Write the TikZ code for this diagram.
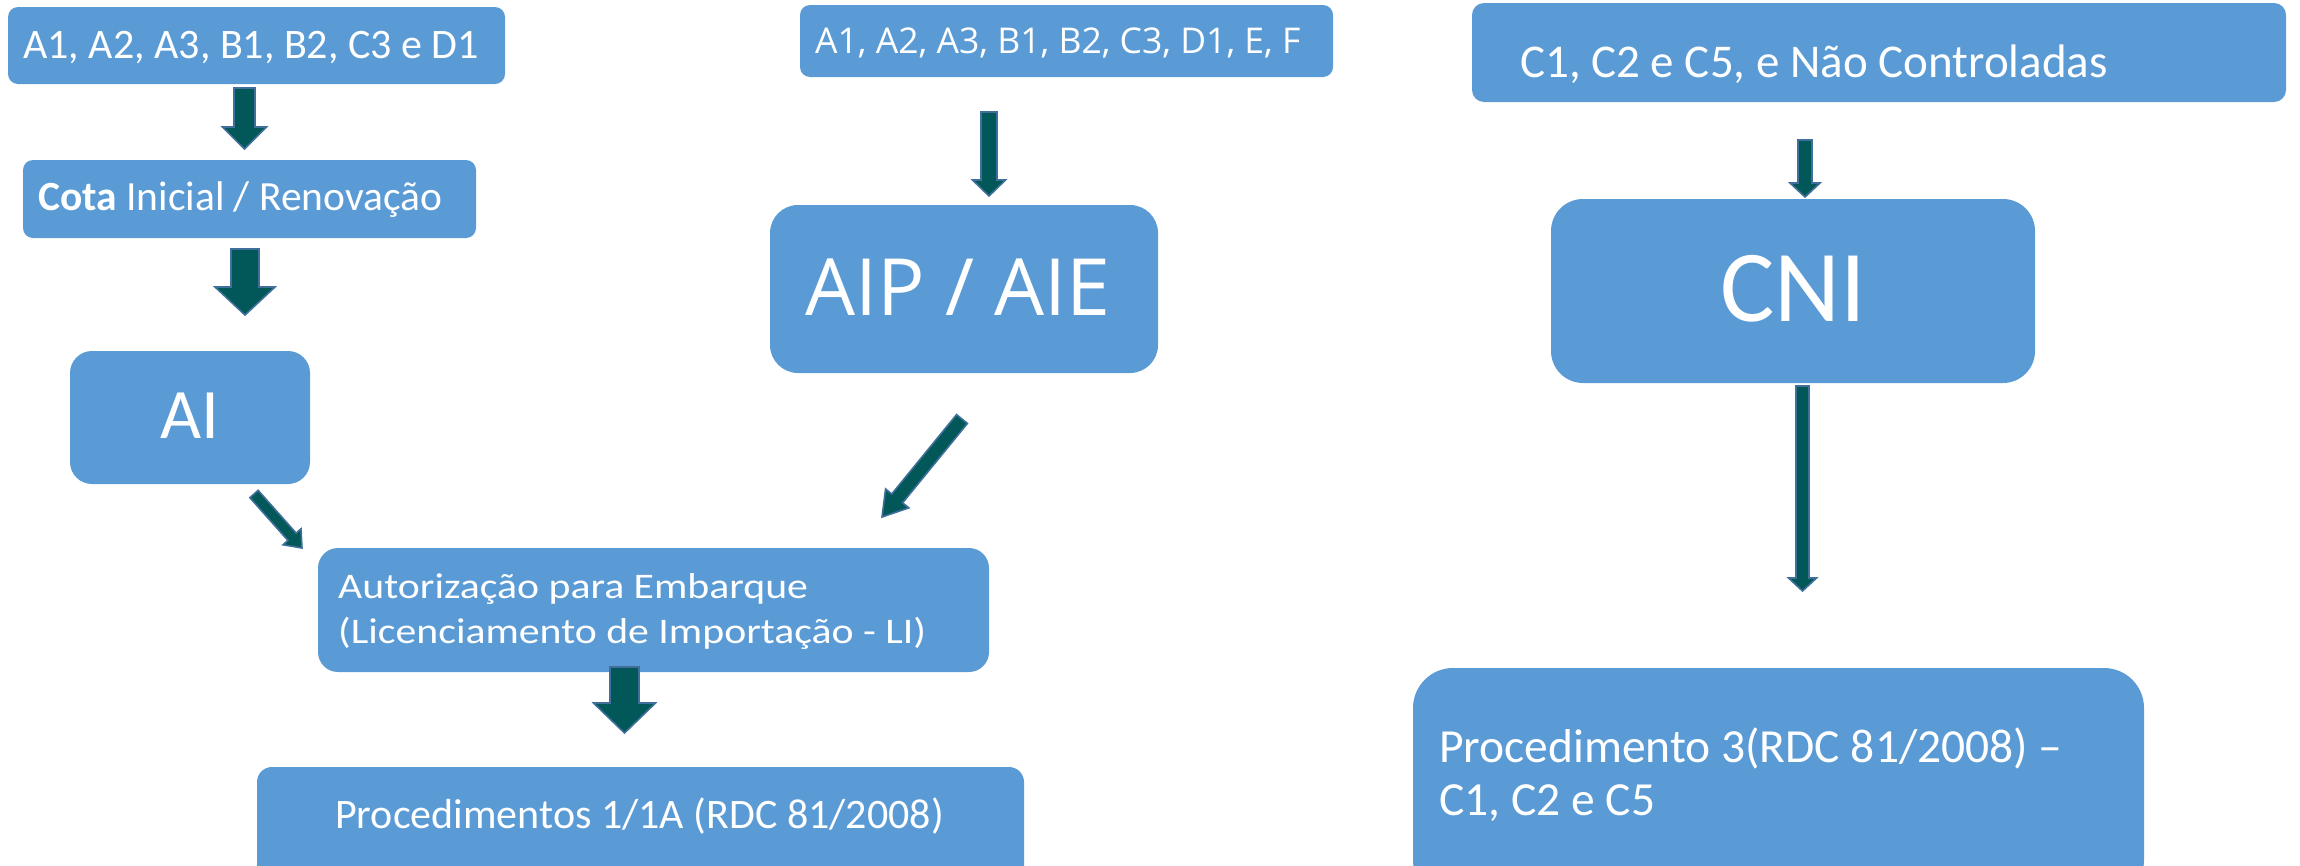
\documentclass[tikz,border=0pt]{standalone}
\usepackage{fontspec}
\setmainfont{Carlito}
\newfontfamily\osans{Open Sans}
\newfontfamily\wcarlito[FakeStretch=1.16]{Carlito}
\usetikzlibrary{calc}
\definecolor{boxblue}{HTML}{5B9BD5}
\definecolor{arrfill}{HTML}{025858}
\definecolor{arrline}{HTML}{3F6F9A}
\tikzset{
  box/.style={draw=none, fill=boxblue, rectangle, inner sep=0pt},
  txt/.style={text=white, inner sep=0pt, anchor=base west},
  blockarrow/.style={fill=arrfill, draw=arrline, line width=1.6pt, line join=miter}
}
\newcommand{\blockarr}[5]{%
  \coordinate (ba-h) at ($(#2)!#5!(#1)$);
  \draw[blockarrow] ($(#1)!#3!90:(#2)$) -- ($(ba-h)!#3!-90:(#1)$) -- ($(ba-h)!#4!-90:(#1)$) -- (#2)
    -- ($(ba-h)!#4!90:(#1)$) -- ($(ba-h)!#3!90:(#1)$) -- ($(#1)!#3!-90:(#2)$) -- cycle;
}
\begin{document}
\begin{tikzpicture}[x=1pt, y=-1pt]
\useasboundingbox (0,0) rectangle (2300,865);
\clip (0,0) rectangle (2300,865);

% boxes
\node[box, minimum width=497pt, minimum height=77pt, rounded corners=10pt] (b1) at (256.5,45.5) {};
\node[box, minimum width=453pt, minimum height=78pt, rounded corners=10pt] (b2) at (249.5,199) {};
\node[box, minimum width=240pt, minimum height=133pt, rounded corners=22pt] (b3) at (190,417.5) {};
\node[box, minimum width=533pt, minimum height=72pt, rounded corners=10pt] (b4) at (1066.5,41) {};
\node[box, minimum width=388pt, minimum height=168pt, rounded corners=28pt] (b5) at (964,289) {};
\node[box, minimum width=814pt, minimum height=99pt, rounded corners=12pt] (b6) at (1879,52.5) {};
\node[box, minimum width=484pt, minimum height=184pt, rounded corners=32pt] (b7) at (1793,291) {};
\node[box, minimum width=671pt, minimum height=124pt, rounded corners=20pt] (b8) at (653.5,610) {};
\node[box, minimum width=767pt, minimum height=133pt, rounded corners=15pt] (b9) at (640.5,833.5) {};
\node[box, minimum width=731pt, minimum height=232pt, rounded corners=40pt] (b10) at (1778.5,784) {};

% texts
\node[txt] (t1) at (23,58) {\fontsize{42}{50}\selectfont A1, A2, A3, B1, B2, C3 e D1};
\node[txt] (t2) at (38,210) {\fontsize{41.5}{50}\selectfont \textbf{Cota} Inicial / Renovação};
\node[txt, anchor=base] (t3) at (190,438) {\fontsize{71}{80}\selectfont AI};
\node[txt] (t4) at (815,53) {\osans\fontsize{35.5}{42}\selectfont A1, A2, A3, B1, B2, C3, D1, E, F};
\node[txt] (t5) at (805,315) {\osans\fontsize{79}{90}\selectfont AIP / AIE};
\node[txt] (t6) at (1520,77) {\fontsize{47}{56}\selectfont C1, C2 e C5, e Não Controladas};
\node[txt, anchor=base] (t7) at (1793,321) {\fontsize{102}{110}\selectfont CNI};
\node[txt] (t8a) at (338,598) {\wcarlito\fontsize{36}{44}\selectfont Autorização para Embarque};
\node[txt] (t8b) at (338,643) {\wcarlito\fontsize{36}{44}\selectfont (Licenciamento de Importação - LI)};
\node[txt] (t9) at (335,828) {\fontsize{42}{50}\selectfont Procedimentos 1/1A (RDC 81/2008)};
\node[txt] (t10a) at (1439,762) {\fontsize{47.5}{56}\selectfont Procedimento 3(RDC 81/2008) –};
\node[txt] (t10b) at (1439,815) {\fontsize{47.5}{56}\selectfont C1, C2 e C5};

% arrow end points
\coordinate (a1s) at (244.5,88);   \coordinate (a1e) at (244.5,149);
\coordinate (a2s) at (245,249);    \coordinate (a2e) at (245,315);
\coordinate (a3s) at (254,494);    \coordinate (a3e) at (302,548);
\coordinate (a4s) at (989,112);    \coordinate (a4e) at (989,196);
\coordinate (a5s) at (962,419);    \coordinate (a5e) at (882,517);
\coordinate (a6s) at (1805,140);   \coordinate (a6e) at (1805,197);
\coordinate (a7s) at (1802.5,386); \coordinate (a7e) at (1802.5,591);
\coordinate (a8s) at (624.5,667);  \coordinate (a8e) at (624.5,733);

\blockarr{a1s}{a1e}{10.5pt}{22pt}{22pt}
\blockarr{a2s}{a2e}{14pt}{30pt}{28pt}
\blockarr{a3s}{a3e}{5.5pt}{12pt}{15pt}
\blockarr{a4s}{a4e}{8pt}{16.5pt}{16pt}
\blockarr{a5s}{a5e}{7pt}{15pt}{24pt}
\blockarr{a6s}{a6e}{7pt}{15pt}{14pt}
\blockarr{a7s}{a7e}{6.5pt}{14pt}{13pt}
\blockarr{a8s}{a8e}{14.5pt}{31pt}{30pt}
\end{tikzpicture}
\end{document}
